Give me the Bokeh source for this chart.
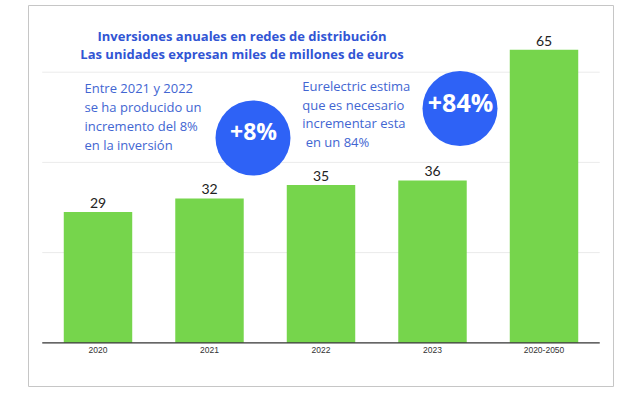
from bokeh.plotting import figure
from bokeh.models import FactorRange, Range1d, ColumnDataSource
from bokeh.core.properties import value
from bokeh.embed import file_html
from bokeh.resources import INLINE

# ---- data ----
categories = ["2020", "2021", "2022", "2023", "2020-2050"]
investments = [29, 32, 35, 36, 65]
grid_values = [20, 40, 60]
title_lines = ["Inversiones anuales en redes de distribución",
               "Las unidades expresan miles de millones de euros"]
left_note = ["Entre 2021 y 2022", "se ha producido un",
             "incremento del 8%", "en la inversión"]
right_note = ["Eurelectric estima", "que es necesario",
              "incrementar esta", " en un 84%"]
badges = ["+8%", "+84%"]

# ---- layout helpers (page pixels -> data coords) ----
FRAME_LEFT = 28.0
FRAME_TOP = 5.0
FRAME_BOTTOM = 386.0
UNIT_PX = 111.5
PAD = 0.1233
BASE_PY = 342.3
PX_PER_VAL = 4.51


def px2x(px):
    return (px - FRAME_LEFT) / UNIT_PX - PAD


def py2y(py):
    return (BASE_PY - py) / PX_PER_VAL


p = figure(width=614, height=387, output_backend="svg", toolbar_location=None,
           x_range=FactorRange(factors=categories, range_padding=2 * PAD / 5,
                               range_padding_units="percent"),
           y_range=Range1d(py2y(FRAME_BOTTOM), py2y(FRAME_TOP)),
           x_axis_location=None, y_axis_location=None,
           min_border_left=28, min_border_right=1, min_border_top=5,
           min_border_bottom=1)
p.outline_line_color = "#c6c6c6"
p.outline_line_width = 1
p.background_fill_color = "white"
p.border_fill_color = "white"
p.xgrid.visible = False
p.ygrid.visible = False

# grid lines
p.segment(x0=[0] * len(grid_values), x1=[len(categories)] * len(grid_values),
          y0=grid_values, y1=grid_values, line_color="#ebebeb", line_width=1)

src = ColumnDataSource(dict(cat=categories, val=investments,
                            lab=[str(v) for v in investments]))
p.vbar(x="cat", top="val", width=0.614, bottom=0, source=src,
       fill_color="#76d54c", line_color=None)

# axis line
p.segment(x0=[0], x1=[len(categories)], y0=[0], y1=[0], line_color="#333333",
          line_width=1.3)

# tick labels
p.text(x="cat", y=0, text="cat", source=src, text_align="center",
       text_baseline="middle", y_offset=7, text_font=value("Liberation Sans"),
       text_font_size="8.5px", text_color="#333333")

# value labels
p.text(x="cat", y="val", text="lab", source=src, text_align="center",
       text_baseline="middle", y_offset=-9, text_font=value("Lato"),
       text_font_size="14px", text_color="#222222")

# title
p.text(x=[px2x(241.5)] * 2, y=[py2y(35), py2y(53.3)], text=title_lines,
       text_align="center", text_baseline="middle", text_font=value("Open Sans"),
       text_font_style="bold", text_font_size="13px", text_color="#3155d4")

# notes
p.text(x=[px2x(84)] * 4, y=[py2y(v) for v in (87.5, 106.5, 125.5, 144)],
       text=left_note, text_align="left", text_baseline="middle",
       text_font=value("Open Sans"), text_font_size="13px", text_color="#4266d2")
p.text(x=[px2x(301.7)] * 3, y=[py2y(v) for v in (85, 104, 122.7)],
       text=right_note[:3], text_align="left", text_baseline="middle",
       text_font=value("Open Sans"), text_font_size="13px", text_color="#4266d2")
p.text(x=[px2x(301.7)], y=[py2y(141)], text=[right_note[3]], x_offset=3.5,
       text_align="left", text_baseline="middle",
       text_font=value("Open Sans"), text_font_size="13px", text_color="#4266d2")

# badges
p.scatter(x=[px2x(252.5), px2x(459.5)], y=[py2y(137.5), py2y(108)],
          marker="circle", size=75, fill_color="#2e62f6", line_color=None)
p.text(x=[px2x(253)], y=[py2y(130)], text=[badges[0]], text_align="center",
       text_baseline="middle", text_font=value("Open Sans"), text_font_style="bold",
       text_font_size="23px", text_color="white")
p.text(x=[px2x(460)], y=[py2y(101.7)], text=[badges[1]], text_align="center",
       text_baseline="middle", text_font=value("Open Sans"), text_font_style="bold",
       text_font_size="25px", text_color="white")

open("out.html", "w").write(file_html(p, INLINE))
